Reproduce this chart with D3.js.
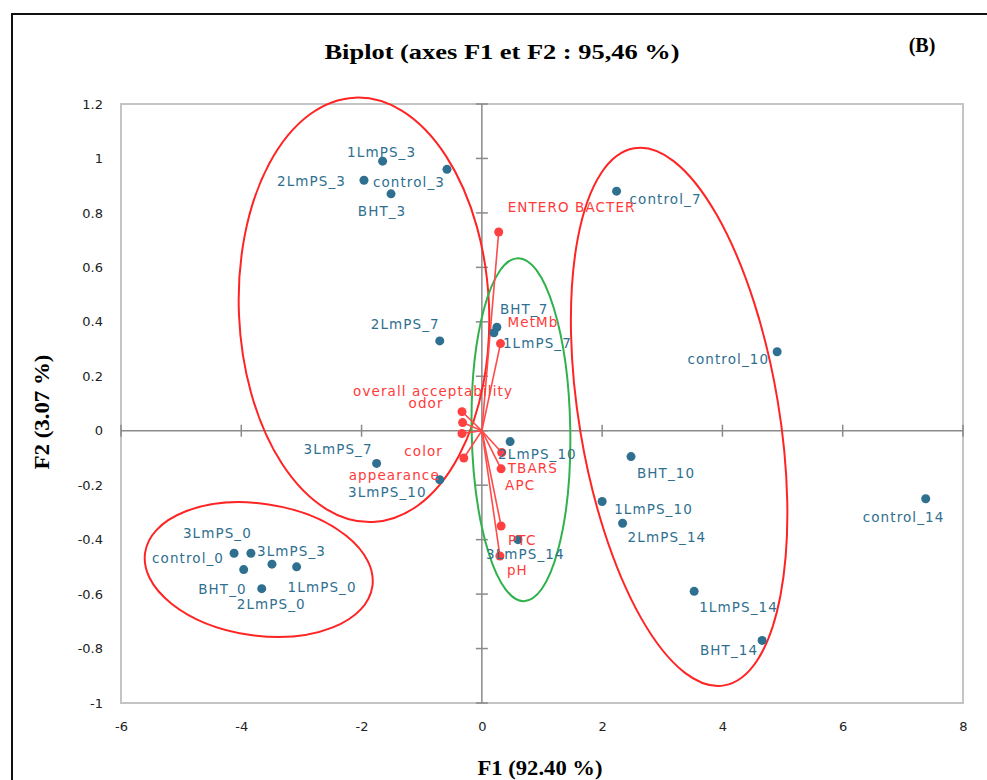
<!DOCTYPE html>
<html><head><meta charset="utf-8">
<script src="https://cdn.jsdelivr.net/npm/d3@7"></script>
<style>body{margin:0;background:#fff}</style>
</head><body><svg id="c" width="987" height="780"></svg>
<script>
// ---- data ----
const obsNames = ["1LmPS_3","control_3","2LmPS_3","BHT_3","2LmPS_7","BHT_7","1LmPS_7","2LmPS_10","3LmPS_7","3LmPS_10","3LmPS_14","control_0","3LmPS_0","3LmPS_3","BHT_0","1LmPS_0","2LmPS_0","control_7","control_10","BHT_10","1LmPS_10","2LmPS_14","1LmPS_14","BHT_14","control_14"];
const obsF1 = [-1.65,-0.58,-1.96,-1.51,-0.70,0.25,0.20,0.47,-1.75,-0.70,0.60,-4.12,-3.84,-3.49,-3.96,-3.08,-3.66,2.24,4.91,2.48,2.00,2.34,3.53,4.66,7.38];
const obsF2 = [0.99,0.96,0.92,0.87,0.33,0.38,0.36,-0.04,-0.12,-0.18,-0.40,-0.45,-0.45,-0.49,-0.51,-0.50,-0.58,0.88,0.29,-0.095,-0.26,-0.34,-0.59,-0.77,-0.25];

const varNames = ["ENTERO BACTER","MetMb","overall acceptability","odor","color","appearance","TBARS","APC","PTC","pH"];
const varF1 = [0.28,0.31,-0.33,-0.32,-0.33,-0.30,0.33,0.32,0.32,0.30];
const varF2 = [0.73,0.32,0.07,0.03,-0.01,-0.10,-0.08,-0.14,-0.35,-0.46];

const xTickValues = [-6,-4,-2,0,2,4,6,8];
const xTickLabels = ["-6","-4","-2","0","2","4","6","8"];
const yTickValues = [-1,-0.8,-0.6,-0.4,-0.2,0,0.2,0.4,0.6,0.8,1,1.2];
const yTickLabels = ["-1","-0.8","-0.6","-0.4","-0.2","0","0.2","0.4","0.6","0.8","1","1.2"];

// group ellipses (data units)
const ellCx = [-1.96,-3.71,0.65,3.28];
const ellCy = [0.444,-0.51,0.004,0.051];
const ellRx = [2.08,1.91,0.82,1.66];
const ellRy = [0.78,0.242,0.63,1.0];

// ---- layout / style ----
const ellAngle = [-2.4,8.5,-1,-9.5];
const ellColor = ["#ff2424","#ff2424","#2fb24c","#ff2424"];
const labelLayout = {
  "1LmPS_3":[-1,-9,"middle"],"2LmPS_3":[-18,1,"end"],"control_3":[-2,13,"end"],"BHT_3":[-9,17,"middle"],
  "2LmPS_7":[0,-17,"end"],"BHT_7":[3,-18,"start"],"1LmPS_7":[9,10,"start"],"2LmPS_10":[-12,12,"start"],
  "3LmPS_7":[-4,-14,"end"],"3LmPS_10":[-13,12,"end"],"3LmPS_14":[-32,14,"start"],"control_0":[-10,5,"end"],
  "3LmPS_0":[1,-20,"end"],"3LmPS_3":[-15,-13,"start"],"BHT_0":[3,19,"end"],"1LmPS_0":[-9,20,"start"],
  "2LmPS_0":[-25,15,"start"],"control_7":[13,8,"start"],"control_10":[-8,7,"end"],"BHT_10":[6,16,"start"],
  "1LmPS_10":[12,7,"start"],"2LmPS_14":[5,14,"start"],"1LmPS_14":[5,16,"start"],"BHT_14":[-4,10,"end"],
  "control_14":[-63,18,"start"],
  "ENTERO BACTER":[9,-25,"start"],"MetMb":[7,-22,"start"],"overall acceptability":[51,-21,"end"],
  "odor":[-19,-20,"end"],"color":[-19,18,"end"],"appearance":[-24,17,"end"],"TBARS":[6,15,"start"],
  "APC":[4,16,"start"],"PTC":[7,14,"start"],"pH":[7,14,"start"]
};
const BLUE = "#2f6f8f", RED = "#ff3a3a";
const labelFont = "'DejaVu Sans', Verdana, sans-serif";
const serif = "'Liberation Serif','Times New Roman',serif";

const svg = d3.select("#c");
const x = d3.scaleLinear().domain([-6,8]).range([121,963]);
const y = d3.scaleLinear().domain([-1,1.2]).range([703,104]);

// outer border (only top/left visible)
svg.append("rect").attr("x",12).attr("y",14).attr("width",1000).attr("height",820)
  .attr("fill","none").attr("stroke","#111").attr("stroke-width",2);

// title
svg.append("text").attr("x",502).attr("y",52).attr("text-anchor","middle").attr("dominant-baseline","central")
  .attr("font-family",serif).attr("font-weight","bold").attr("font-size",21)
  .attr("textLength",355).attr("lengthAdjust","spacingAndGlyphs")
  .text("Biplot (axes F1 et F2 : 95,46 %)");
svg.append("text").attr("x",922).attr("y",45).attr("text-anchor","middle").attr("dominant-baseline","central")
  .attr("font-family",serif).attr("font-weight","bold").attr("font-size",20).text("(B)");

// plot frame
svg.append("rect").attr("x",x(-6)).attr("y",y(1.2)).attr("width",x(8)-x(-6)).attr("height",y(-1)-y(1.2))
  .attr("fill","none").attr("stroke","#c4c4c4").attr("stroke-width",2);

// tick labels via axes
const fmtX = d => xTickLabels[xTickValues.indexOf(d)];
const fmtY = d => yTickLabels[yTickValues.findIndex(v => Math.abs(v-d)<1e-9)];
const gx = svg.append("g").attr("transform",`translate(0,${y(-1)})`)
  .call(d3.axisBottom(x).tickValues(xTickValues).tickFormat(fmtX).tickSize(0).tickPadding(19));
const gy = svg.append("g").attr("transform",`translate(${x(-6)},0)`)
  .call(d3.axisLeft(y).tickValues(yTickValues).tickFormat(fmtY).tickSize(0).tickPadding(18));
[gx,gy].forEach(g => {
  g.select(".domain").remove();
  g.selectAll("text").attr("font-family",labelFont).attr("font-size",13).attr("fill","#222");
});

// zero axes with crossing ticks
const axisCol = "#8a8a8a";
svg.append("line").attr("x1",x(-6)).attr("x2",x(8)).attr("y1",y(0)).attr("y2",y(0)).attr("stroke",axisCol).attr("stroke-width",1.5);
svg.append("line").attr("x1",x(0)).attr("x2",x(0)).attr("y1",y(-1)).attr("y2",y(1.2)).attr("stroke",axisCol).attr("stroke-width",1.5);
svg.append("g").selectAll("line").data(yTickValues).join("line")
  .attr("x1",x(0)-6).attr("x2",x(0)+6).attr("y1",d=>y(d)).attr("y2",d=>y(d)).attr("stroke",axisCol).attr("stroke-width",1.5);
svg.append("g").selectAll("line").data(xTickValues).join("line")
  .attr("y1",y(0)-6).attr("y2",y(0)+6).attr("x1",d=>x(d)).attr("x2",d=>x(d)).attr("stroke",axisCol).attr("stroke-width",1.5);

// ellipses
svg.append("g").selectAll("ellipse").data(ellCx.map((c,i)=>i)).join("ellipse")
  .attr("cx",0).attr("cy",0)
  .attr("rx",i=>x(ellCx[i]+ellRx[i])-x(ellCx[i]))
  .attr("ry",i=>y(ellCy[i])-y(ellCy[i]+ellRy[i]))
  .attr("transform",i=>`translate(${x(ellCx[i])},${y(ellCy[i])}) rotate(${ellAngle[i]})`)
  .attr("fill","none").attr("stroke",i=>ellColor[i]).attr("stroke-width",2);

// variable vectors
const vars = varNames.map((n,i)=>({n, a:varF1[i], b:varF2[i]}));
svg.append("g").selectAll("line").data(vars).join("line")
  .attr("x1",x(0)).attr("y1",y(0)).attr("x2",d=>x(d.a)).attr("y2",d=>y(d.b))
  .attr("stroke","#ff4a4a").attr("stroke-width",1.6);
svg.append("g").selectAll("circle").data(vars).join("circle")
  .attr("cx",d=>x(d.a)).attr("cy",d=>y(d.b)).attr("r",4.5).attr("fill","#ff4040");

// observations
const obs = obsNames.map((n,i)=>({n, a:obsF1[i], b:obsF2[i]}));
svg.append("g").selectAll("circle").data(obs).join("circle")
  .attr("cx",d=>x(d.a)).attr("cy",d=>y(d.b)).attr("r",4.5).attr("fill",BLUE);

function labels(data,color){
  svg.append("g").selectAll("text").data(data).join("text")
    .attr("x",d=>x(d.a)+labelLayout[d.n][0]).attr("y",d=>y(d.b)+labelLayout[d.n][1])
    .attr("text-anchor",d=>labelLayout[d.n][2]).attr("dominant-baseline","central")
    .attr("font-family",labelFont).attr("font-size",13.5).attr("letter-spacing",1.1)
    .attr("fill",color).text(d=>d.n);
}
labels(obs,BLUE);
labels(vars,RED);

// axis titles
svg.append("text").attr("x",540).attr("y",768).attr("text-anchor","middle").attr("dominant-baseline","central")
  .attr("font-family",serif).attr("font-weight","bold").attr("font-size",20)
  .attr("textLength",125).attr("lengthAdjust","spacingAndGlyphs").text("F1 (92.40 %)");
svg.append("text").attr("transform","translate(42,412) rotate(-90)").attr("text-anchor","middle").attr("dominant-baseline","central")
  .attr("font-family",serif).attr("font-weight","bold").attr("font-size",20)
  .attr("textLength",115).attr("lengthAdjust","spacingAndGlyphs").text("F2 (3.07 %)");
</script></body></html>
